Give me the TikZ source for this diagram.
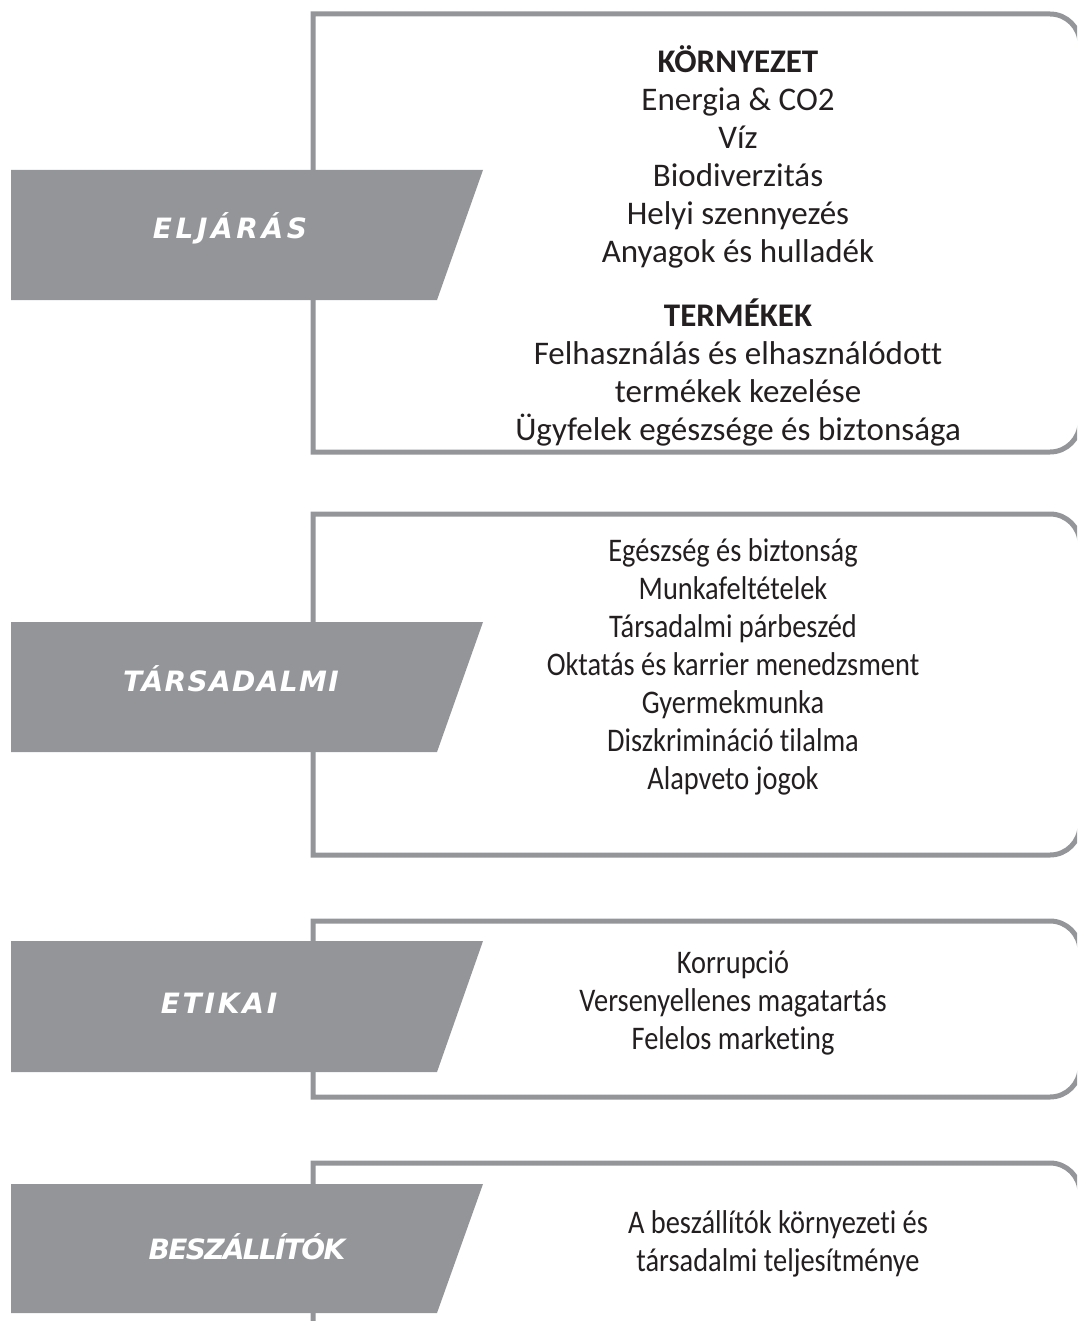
\documentclass[tikz,border=0pt]{standalone}
\usepackage{fontspec}
\setmainfont{Carlito}[Ligatures=CommonOff]
\newfontfamily\condfont{Carlito}[FakeStretch=0.86,Ligatures=CommonOff]
\newfontfamily\tagfont{DejaVu Sans}
\definecolor{framegray}{HTML}{939598}
\definecolor{inkdark}{HTML}{231F20}

\begin{document}
\begin{tikzpicture}[x=0.5pt,y=-0.5pt,
    frame/.style={draw=framegray,line width=2.5pt},
    banner/.style={fill=framegray},
    tag/.style={text=white,font=\tagfont\bfseries\itshape\fontsize{14}{16}\selectfont,anchor=base,inner sep=0pt},
    items/.style={text=inkdark,align=center,anchor=north,inner sep=0pt,font=\fontsize{16.5}{19}\selectfont},
    conditems/.style={items,font=\condfont\fontsize{16.5}{19}\selectfont}]
  \useasboundingbox (0,0) rectangle (1077,1321);
  \clip (0,0) rectangle (1077,1321);

  % Eljaras block
  \draw[frame] (313,14) -- (313,452) -- (1000,452) {[rounded corners=15pt] -| (1080,233) |- (1000,14)} -- cycle;
  \fill[banner] (11,170) -- (483,170) -- (437,300) -- (11,300) -- cycle;
  \node[tag] (eljaras) at (230,238) {\addfontfeature{LetterSpace=13}ELJÁRÁS};
  \node[items] (kornyezet) at (738,45) {{\bfseries KÖRNYEZET}\\Energia \& CO2\\Víz\\Biodiverzitás\\Helyi szennyezés\\Anyagok és hulladék\\[13pt]
    {\bfseries TERMÉKEK}\\Felhasználás és elhasználódott\\termékek kezelése\\Ügyfelek egészsége és biztonsága};

  % Tarsadalmi block
  \draw[frame] (313,514) -- (313,855) -- (1000,855) {[rounded corners=15pt] -| (1080,685) |- (1000,514)} -- cycle;
  \fill[banner] (11,622) -- (483,622) -- (437,752) -- (11,752) -- cycle;
  \node[tag] (tarsadalmi) at (231,691) {\addfontfeature{LetterSpace=5}TÁRSADALMI};
  \node[conditems] (munka) at (733,538) {Egészség és biztonság\\Munkafeltételek\\Társadalmi párbeszéd\\Oktatás és karrier menedzsment\\Gyermekmunka\\Diszkrimináció tilalma\\Alapveto jogok};

  % Etikai block
  \draw[frame] (313,921) -- (313,1097) -- (1000,1097) {[rounded corners=15pt] -| (1080,1009) |- (1000,921)} -- cycle;
  \fill[banner] (11,941) -- (483,941) -- (437,1072) -- (11,1072) -- cycle;
  \node[tag] (etikai) at (219,1013) {\addfontfeature{LetterSpace=10}ETIKAI};
  \node[conditems] (korrupcio) at (733,950) {Korrupció\\Versenyellenes magatartás\\Felelos marketing};

  % Beszallitok block
  \draw[frame] (313,1400) -- (313,1163) {[rounded corners=15pt] -- (1080,1163) -- (1080,1400)};
  \fill[banner] (11,1184) -- (483,1184) -- (437,1313) -- (11,1313) -- cycle;
  \node[tag] (beszallitok) at (247,1259) {\addfontfeature{LetterSpace=-6}BESZÁLLÍTÓK};
  \node[conditems] (teljesitmeny) at (778,1210) {A beszállítók környezeti és\\társadalmi teljesítménye};
\end{tikzpicture}
\end{document}
